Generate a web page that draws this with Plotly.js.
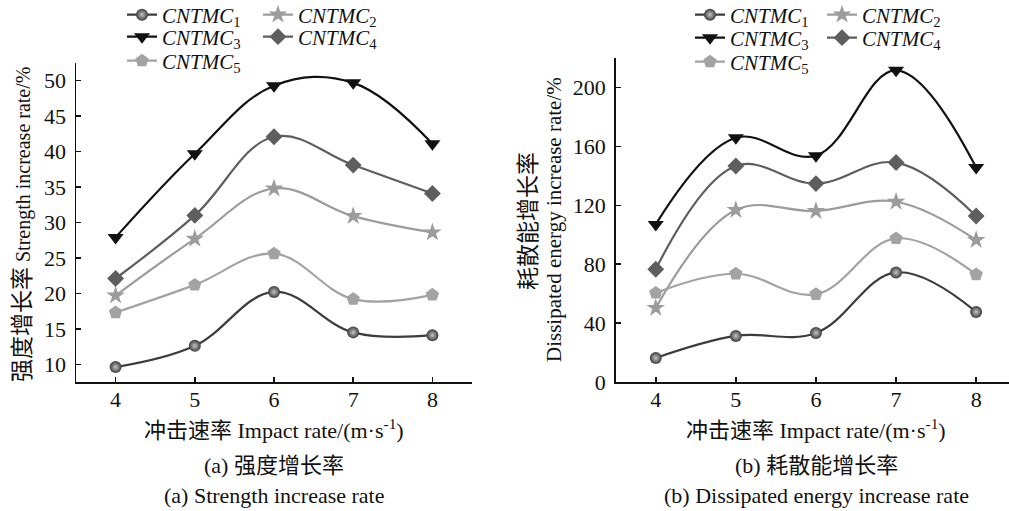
<!DOCTYPE html>
<html><head><meta charset="utf-8">
<script src="https://cdn.plot.ly/plotly-3.0.1.min.js"></script>
<style>body{margin:0;background:#fff}#g{width:1009px;height:511px}</style>
</head><body><div id="g"></div>
<script>
const impactRate = [4, 5, 6, 7, 8];
const seriesNames = ['1', '2', '3', '4', '5'];
// (a) strength increase rate /%
const strength1 = [9.6, 12.6, 20.2, 14.5, 14.1];
const strength2 = [19.7, 27.7, 34.8, 30.9, 28.6];
const strength3 = [27.9, 39.7, 49.3, 49.7, 41.1];
const strength4 = [22.1, 31.0, 42.1, 38.1, 34.1];
const strength5 = [17.3, 21.2, 25.6, 19.2, 19.8];
// (b) dissipated energy increase rate /%
const energy1 = [16.3, 31.3, 33.3, 74.4, 47.6];
const energy2 = [50.3, 116.8, 116.1, 122.4, 96.4];
const energy3 = [107, 165.8, 153.7, 211.6, 145.6];
const energy4 = [76.6, 146.7, 134.7, 149.0, 112.7];
const energy5 = [60.5, 73.5, 59.6, 97.5, 73.0];
const yTicksA = [10, 15, 20, 25, 30, 35, 40, 45, 50];
const yTicksB = [0, 40, 80, 120, 160, 200];

const W = 1009, H = 511;
const px = v => v / W, py = v => (H - v) / H;
const SERIF = 'Liberation Serif';
const FONT = 'Liberation Serif, Noto Sans CJK SC, serif';

const styles = [
  {color: '#3c3c3c', symbol: 'circle', size: 12, grad: '#c4c4c4'},
  {color: '#9c9c9c', symbol: 'star', size: 14},
  {color: '#111111', symbol: 'triangle-down', size: 14},
  {color: '#5e5e5e', symbol: 'diamond', size: 13},
  {color: '#a3a3a3', symbol: 'pentagon', size: 14}
];
const dataA = [strength1, strength2, strength3, strength4, strength5];
const dataB = [energy1, energy2, energy3, energy4, energy5];

// legend positions (px): left of symbol, row centre
const legPosA = [[122, 15], [258, 15], [122, 37], [258, 37], [122, 61]];
const legPosB = [[690, 15], [822, 15], [690, 38], [822, 38], [690, 62]];

const traces = [];
const layout = {
  width: W, height: H, margin: {l: 0, r: 0, t: 0, b: 0, autoexpand: false},
  paper_bgcolor: '#fff', plot_bgcolor: '#fff',
  font: {family: FONT, size: 22, color: '#111'},
  annotations: []
};
function addPanel(data, xa, ya, legOffset, legPos) {
  data.forEach((ys, i) => {
    const s = styles[i];
    const lid = 'legend' + (legOffset + i === 1 ? '' : (legOffset + i));
    const marker = {color: s.color, symbol: s.symbol, size: s.size, line: {width: 0}};
    if (s.grad) marker.gradient = {type: 'radial', color: s.grad};
    traces.push({
      x: impactRate, y: ys, xaxis: xa, yaxis: ya, type: 'scatter', mode: 'lines+markers',
      name: '<i>CNTMC</i><sub>' + seriesNames[i] + '</sub>',
      line: {color: s.color, width: 2.2, shape: 'spline', smoothing: 1.1},
      marker: marker, legend: lid, showlegend: true
    });
    layout[lid] = {
      x: px(legPos[i][0]), y: py(legPos[i][1]), xanchor: 'left', yanchor: 'middle',
      bgcolor: 'rgba(0,0,0,0)', borderwidth: 0, orientation: 'h',
      font: {family: SERIF, size: 21, color: '#111'}, itemwidth: 30
    };
  });
}
addPanel(dataA, 'x', 'y', 1, legPosA);
addPanel(dataB, 'x2', 'y2', 6, legPosB);

const axBase = {
  showline: true, linecolor: '#111', linewidth: 1.5, mirror: false,
  ticks: 'inside', ticklen: 5, tickwidth: 1.5, tickcolor: '#111',
  showgrid: false, zeroline: false, tickfont: {family: SERIF, size: 22, color: '#111'}
};
layout.xaxis = Object.assign({}, axBase, {domain: [px(76), px(472)], range: [3.5, 8.5], tickvals: impactRate, anchor: 'y', ticklabelstandoff: -3});
layout.yaxis = Object.assign({}, axBase, {domain: [py(382), py(63)], range: [7.5, 52.5], tickvals: yTicksA, anchor: 'x', ticklabelstandoff: 4});
layout.xaxis2 = Object.assign({}, axBase, {domain: [px(615.7), 1], range: [3.5, 3.5 + (W - 615.7) / 80.1], tickvals: impactRate, anchor: 'y2', ticklabelstandoff: -3});
layout.yaxis2 = Object.assign({}, axBase, {domain: [py(382), py(58)], range: [0, 220], tickvals: yTicksB, anchor: 'x2', ticklabelstandoff: 4});

function ann(text, x, y, size, angle) {
  layout.annotations.push({text: text, x: px(x), y: py(y), xref: 'paper', yref: 'paper',
    xanchor: 'center', yanchor: 'middle', showarrow: false, textangle: angle || 0,
    font: {family: FONT, size: size, color: '#111'}});
}
ann('<span style="font-size:23px">强度增长率</span> Strength increase rate/%', 22, 225, 20, -90);
ann('耗散能增长率', 528, 221, 23, -90);
ann('Dissipated energy increase rate/%', 554, 220, 21, -90);
ann('冲击速率 Impact rate/(m·s<sup>-1</sup>)', 274, 429, 22);
ann('冲击速率 Impact rate/(m·s<sup>-1</sup>)', 816, 429, 22);
ann('(a) 强度增长率', 274, 465, 22);
ann('(b) 耗散能增长率', 816, 465, 22);
ann('(a) Strength increase rate', 274, 495, 22);
ann('(b) Dissipated energy increase rate', 816, 495, 22);

Plotly.newPlot('g', traces, layout, {staticPlot: true});
</script></body></html>
